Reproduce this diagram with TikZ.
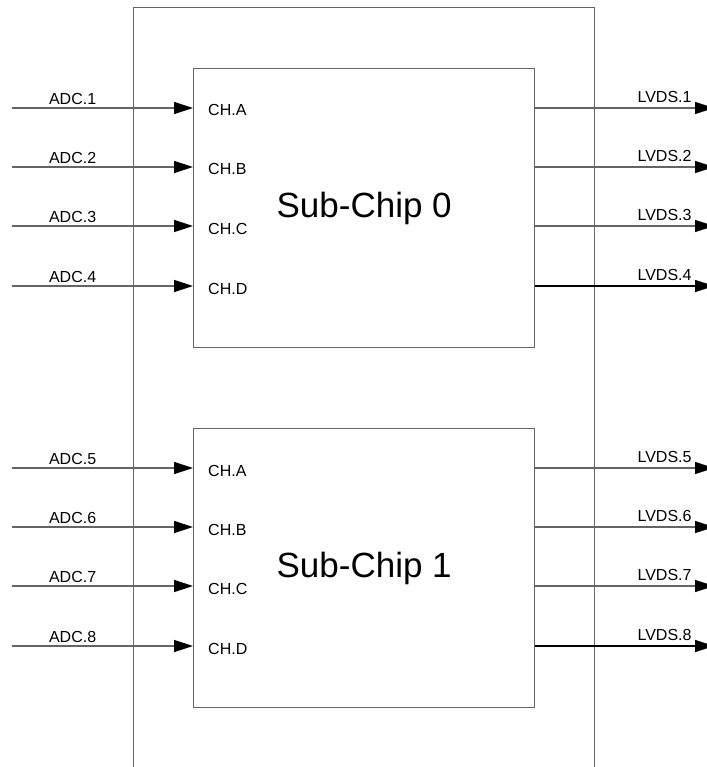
\documentclass[tikz,border=0pt]{standalone}
\usepackage{fontspec}
\setmainfont{Liberation Sans}
\usepackage{tikz}
\usetikzlibrary{arrows.meta, positioning}
\definecolor{linegray}{RGB}{100,100,100}

\begin{document}
\begin{tikzpicture}[
    x=1pt, y=-1pt,
    wire/.style={line width=1.4pt},
    sig/.style={wire, -{Triangle[length=19pt, width=12pt, color=black]}},
    chipbox/.style={draw=linegray, line width=1.4pt, anchor=north west, minimum width=461pt, minimum height=790pt},
    block/.style={draw=linegray, line width=1.4pt, anchor=north west, minimum width=341pt, minimum height=279pt, font=\fontsize{35}{42}\selectfont},
    port/.style={anchor=base west, inner sep=0pt, font=\fontsize{16}{19}\selectfont},
    lbl/.style={inner sep=0pt, font=\fontsize{16}{19}\selectfont}
]
\useasboundingbox (0,0) rectangle (706,767);
\node[chipbox] (chip) at (133,7) {};
\node[block] (sub0) at (193,68) {Sub-Chip 0};
\node[block] (sub1) at (193,428) {Sub-Chip 1};
\foreach \n/\c/\p/\y/\col in {1/0/A/108/linegray, 2/0/B/167/linegray, 3/0/C/226/linegray, 4/0/D/286/black,
                              5/1/A/468/linegray, 6/1/B/527/linegray, 7/1/C/586/linegray, 8/1/D/646/black} {
  \coordinate (adc\n) at (12,\y);
  \coordinate (lvds\n) at (714,\y);
  \draw[sig, draw=linegray] (adc\n) -- node[lbl, pos=0.335, above=3pt] (adclbl\n) {ADC.\n} (sub\c.west |- adc\n);
  \draw[sig, draw=\col] (sub\c.east |- adc\n) -- node[lbl, pos=0.878, anchor=south east, yshift=5pt] (lvdslbl\n) {LVDS.\n} (lvds\n);
  \node[port] (ch\n) at (208,\y+8) {CH.\p};
}
\end{tikzpicture}
\end{document}
